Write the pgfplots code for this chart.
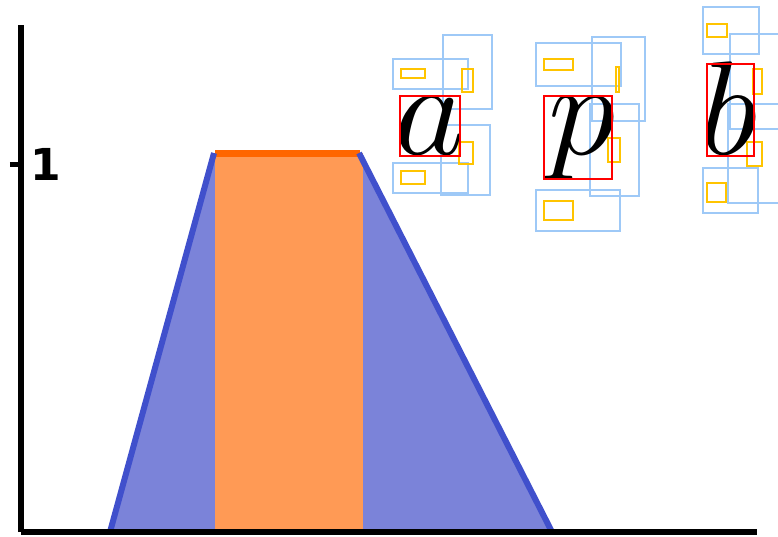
\documentclass[border=0pt]{standalone}
\usepackage{fontspec}
\setmainfont{DejaVu Sans}
\usepackage{pgfplots}
\pgfplotsset{compat=1.18}
\definecolor{trapfill}{HTML}{7B83D9}
\definecolor{trapline}{HTML}{4050CC}
\definecolor{orfill}{HTML}{FF9A55}
\definecolor{orline}{HTML}{FF6600}
\definecolor{bbox}{HTML}{9EC9F7}
\definecolor{ybox}{HTML}{FFC400}
\begin{document}
\begin{tikzpicture}
\begin{axis}[
  at={(21bp,5bp)}, anchor=south west,
  scale only axis, width=736bp, height=507bp,
  xmin=21, xmax=757, ymin=0, ymax=1.378,
  axis x line=bottom, axis y line=left,
  axis line style={-, line width=6bp, black},
  axis on top,
  xtick=\empty,
  ytick={1}, yticklabels={1},
  tick align=outside,
  major tick length=11bp,
  every tick/.style={black, line width=5bp},
  yticklabel style={anchor=west, xshift=17bp, font=\fontsize{44bp}{50bp}\selectfont\bfseries},
  clip=false,
]
\addplot[fill=trapfill, draw=none] coordinates {(110,0) (214,1.03) (359,1.03) (552,0)} -- cycle;
\addplot[fill=orfill, draw=none] coordinates {(215,0) (215,1.03) (363,1.03) (363,0)} -- cycle;
\addplot[orline, line width=7bp] coordinates {(215,1.03) (360,1.03)};
\addplot[trapline, line width=6bp] coordinates {(110,0) (214,1.03)};
\addplot[trapline, line width=6bp] coordinates {(359,1.03) (552,0)};
\end{axis}
\begin{scope}[x=1bp, y=-1bp, yshift=537bp, line width=2.8bp]
% letter a
\draw[bbox] (393,59) rectangle (468,89);
\draw[bbox] (443,35) rectangle (492,109);
\draw[bbox] (441,125) rectangle (490,195);
\draw[bbox] (393,163) rectangle (468,193);
\draw[ybox] (401,69) rectangle (425,78);
\draw[ybox] (462,69) rectangle (473,92);
\draw[ybox] (459,142) rectangle (473,164);
\draw[ybox] (401,171) rectangle (425,184);
\node[anchor=base, inner sep=0pt, scale=13.4] at (430,155) {$a$};
\draw[red] (400,96) rectangle (460,156);
% letter p
\draw[bbox] (536,43) rectangle (621,86);
\draw[bbox] (592,37) rectangle (645,121);
\draw[bbox] (590,104) rectangle (639,196);
\draw[bbox] (536,190) rectangle (620,231);
\draw[ybox] (544,59) rectangle (573,70);
\draw[ybox] (616,67) rectangle (619,92);
\draw[ybox] (608,138) rectangle (620,162);
\draw[ybox] (544,201) rectangle (573,220);
\node[anchor=base, inner sep=0pt, scale=13.4] at (582,155) {$p$};
\draw[red] (544,96) rectangle (612,179);
% letter b
\draw[bbox] (703,7) rectangle (759,54);
\draw[bbox] (730,34) rectangle (800,129);
\draw[bbox] (728,104) rectangle (800,203);
\draw[bbox] (703,168) rectangle (758,213);
\draw[ybox] (707,24) rectangle (727,37);
\draw[ybox] (753,69) rectangle (762,94);
\draw[ybox] (747,142) rectangle (762,166);
\draw[ybox] (707,183) rectangle (726,202);
\node[anchor=base, inner sep=0pt, scale=13.4] at (729,155) {$b$};
\draw[red] (707,64) rectangle (754,156);
\end{scope}
\pgfresetboundingbox
\path (0,0) rectangle (778bp,537bp);
\end{tikzpicture}
\end{document}
